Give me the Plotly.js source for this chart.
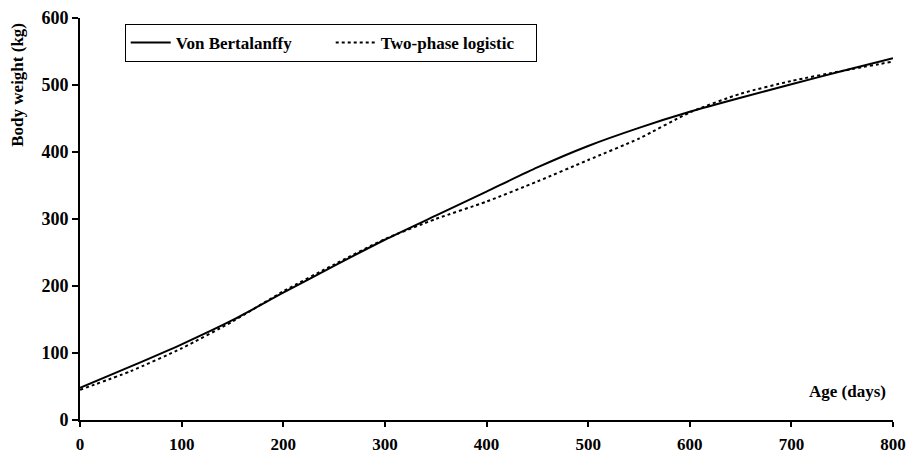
<!DOCTYPE html>
<html>
<head>
<meta charset="utf-8">
<script src="https://cdn.plot.ly/plotly-3.0.1.min.js"></script>
<style>html,body{margin:0;padding:0;background:#fff;}#chart{width:910px;height:457px;}</style>
</head>
<body>
<div id="chart"></div>
<script>
const ageDays = [0, 50, 100, 150, 200, 250, 300, 350, 400, 450, 500, 550, 600, 650, 700, 750, 800];
const vonBertalanffy = [48, 80, 113, 149, 190, 230, 269, 305, 341, 377, 409, 436, 460, 481, 501, 521, 540];
const twoPhaseLogistic = [45, 73, 107, 147, 192, 232, 270, 300, 326, 356, 388, 420, 459, 487, 506, 521, 535];
const xTicks = [0, 100, 200, 300, 400, 500, 600, 700, 800];
const yTicks = [0, 100, 200, 300, 400, 500, 600];

const font = {family: 'Liberation Serif, Times New Roman, serif', color: '#000', weight: 'bold'};
const f = (s) => Object.assign({size: s}, font);

const traces = [
  {x: ageDays, y: vonBertalanffy, name: 'Von Bertalanffy', type: 'scatter', mode: 'lines',
   line: {color: '#000', width: 2, shape: 'spline', smoothing: 0.6}},
  {x: ageDays, y: twoPhaseLogistic, name: 'Two-phase logistic', type: 'scatter', mode: 'lines',
   line: {color: '#000', width: 2, dash: 'dot', shape: 'spline', smoothing: 0.6}}
];

const layout = {
  width: 910, height: 457,
  margin: {l: 80, r: 17, t: 18, b: 37},
  paper_bgcolor: '#fff', plot_bgcolor: '#fff',
  font: f(16),
  showlegend: true,
  legend: {orientation: 'h', x: 0.055, y: 0.985, xanchor: 'left', yanchor: 'top',
           bordercolor: '#000', borderwidth: 1, bgcolor: '#fff',
           font: f(17), itemwidth: 40, entrywidth: 150, entrywidthmode: 'pixels'},
  xaxis: {range: [0, 800], tickvals: xTicks, ticktext: xTicks.map(String),
          showline: true, linecolor: '#000', linewidth: 2, ticks: 'outside', ticklen: 5,
          tickwidth: 2, tickcolor: '#000', showgrid: false, zeroline: false,
          ticklabelstandoff: 3, tickfont: f(17)},
  yaxis: {range: [0, 600], tickvals: yTicks, ticktext: yTicks.map(String),
          showline: true, linecolor: '#000', linewidth: 2, ticks: 'outside', ticklen: 6,
          tickwidth: 2, tickcolor: '#000', showgrid: false, zeroline: false,
          tickfont: f(18)},
  annotations: [
    {text: 'Age (days)', xref: 'paper', yref: 'paper', x: 0.994, y: 0.07,
     xanchor: 'right', yanchor: 'middle', showarrow: false, font: f(17)},
    {text: 'Body weight (kg)', xref: 'paper', yref: 'paper', x: -0.077, y: 0.835,
     xanchor: 'center', yanchor: 'middle', textangle: -90, showarrow: false,
     font: f(17)}
  ]
};

Plotly.newPlot('chart', traces, layout, {displayModeBar: false, staticPlot: true});
</script>
</body>
</html>
